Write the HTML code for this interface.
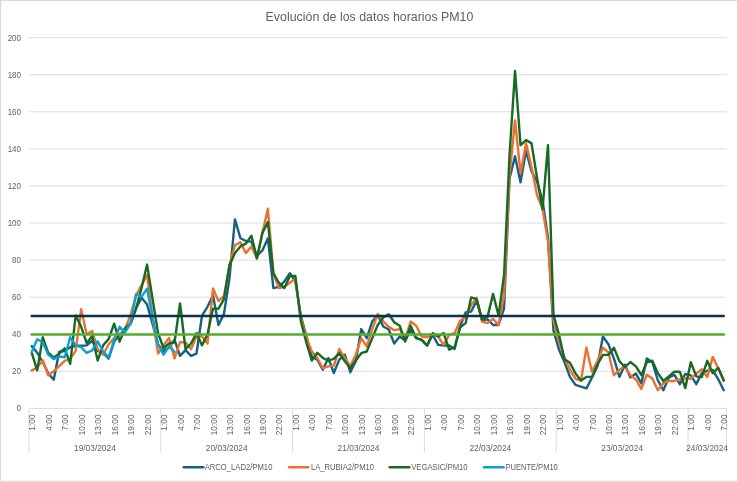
<!DOCTYPE html>
<html><head><meta charset="utf-8"><title>PM10</title>
<style>
html,body{margin:0;padding:0;background:#fff;}
body{width:738px;height:482px;overflow:hidden;font-family:"Liberation Sans",sans-serif;}
svg{display:block;}
text{font-family:"Liberation Sans",sans-serif;fill:#606060;}
</style></head><body>
<svg width="738" height="482" viewBox="0 0 738 482">
<defs><filter id="soft" x="0" y="0" width="100%" height="100%" filterUnits="userSpaceOnUse"><feGaussianBlur stdDeviation="0.4"/></filter></defs>
<rect x="0" y="0" width="738" height="482" fill="#ffffff"/>
<g filter="url(#soft)">
<rect x="0.6" y="0.4" width="736.9" height="480.9" fill="none" stroke="#D9D9D9" stroke-width="1.1"/>

<line x1="29" x2="726.5" y1="371.33" y2="371.33" stroke="#DCDCDC" stroke-width="1"/>
<line x1="29" x2="726.5" y1="334.26" y2="334.26" stroke="#DCDCDC" stroke-width="1"/>
<line x1="29" x2="726.5" y1="297.19" y2="297.19" stroke="#DCDCDC" stroke-width="1"/>
<line x1="29" x2="726.5" y1="260.12" y2="260.12" stroke="#DCDCDC" stroke-width="1"/>
<line x1="29" x2="726.5" y1="223.05" y2="223.05" stroke="#DCDCDC" stroke-width="1"/>
<line x1="29" x2="726.5" y1="185.98" y2="185.98" stroke="#DCDCDC" stroke-width="1"/>
<line x1="29" x2="726.5" y1="148.91" y2="148.91" stroke="#DCDCDC" stroke-width="1"/>
<line x1="29" x2="726.5" y1="111.84" y2="111.84" stroke="#DCDCDC" stroke-width="1"/>
<line x1="29" x2="726.5" y1="74.77" y2="74.77" stroke="#DCDCDC" stroke-width="1"/>
<line x1="29" x2="726.5" y1="37.70" y2="37.70" stroke="#DCDCDC" stroke-width="1"/>
<line x1="29" x2="726.5" y1="408.4" y2="408.4" stroke="#DCDCDC" stroke-width="1"/>
<line x1="29.00" x2="29.00" y1="408.4" y2="453" stroke="#DCDCDC" stroke-width="1"/>
<line x1="160.81" x2="160.81" y1="408.4" y2="453" stroke="#DCDCDC" stroke-width="1"/>
<line x1="292.62" x2="292.62" y1="408.4" y2="453" stroke="#DCDCDC" stroke-width="1"/>
<line x1="424.42" x2="424.42" y1="408.4" y2="453" stroke="#DCDCDC" stroke-width="1"/>
<line x1="556.23" x2="556.23" y1="408.4" y2="453" stroke="#DCDCDC" stroke-width="1"/>
<line x1="688.04" x2="688.04" y1="408.4" y2="453" stroke="#DCDCDC" stroke-width="1"/>
<line x1="726.5" x2="726.5" y1="408.4" y2="453" stroke="#DCDCDC" stroke-width="1"/>
<text transform="translate(21,411.40) scale(1,1.1)" font-size="8" text-anchor="end">0</text>
<text transform="translate(21,374.33) scale(1,1.1)" font-size="8" text-anchor="end">20</text>
<text transform="translate(21,337.26) scale(1,1.1)" font-size="8" text-anchor="end">40</text>
<text transform="translate(21,300.19) scale(1,1.1)" font-size="8" text-anchor="end">60</text>
<text transform="translate(21,263.12) scale(1,1.1)" font-size="8" text-anchor="end">80</text>
<text transform="translate(21,226.05) scale(1,1.1)" font-size="8" text-anchor="end">100</text>
<text transform="translate(21,188.98) scale(1,1.1)" font-size="8" text-anchor="end">120</text>
<text transform="translate(21,151.91) scale(1,1.1)" font-size="8" text-anchor="end">140</text>
<text transform="translate(21,114.84) scale(1,1.1)" font-size="8" text-anchor="end">160</text>
<text transform="translate(21,77.77) scale(1,1.1)" font-size="8" text-anchor="end">180</text>
<text transform="translate(21,40.70) scale(1,1.1)" font-size="8" text-anchor="end">200</text>
<text transform="translate(35.35,414.5) rotate(-90) scale(1.04,1.1)" font-size="8" text-anchor="end">1:00</text>
<text transform="translate(51.82,414.5) rotate(-90) scale(1.04,1.1)" font-size="8" text-anchor="end">4:00</text>
<text transform="translate(68.30,414.5) rotate(-90) scale(1.04,1.1)" font-size="8" text-anchor="end">7:00</text>
<text transform="translate(84.77,414.5) rotate(-90) scale(1.04,1.1)" font-size="8" text-anchor="end">10:00</text>
<text transform="translate(101.25,414.5) rotate(-90) scale(1.04,1.1)" font-size="8" text-anchor="end">13:00</text>
<text transform="translate(117.73,414.5) rotate(-90) scale(1.04,1.1)" font-size="8" text-anchor="end">16:00</text>
<text transform="translate(134.20,414.5) rotate(-90) scale(1.04,1.1)" font-size="8" text-anchor="end">19:00</text>
<text transform="translate(150.68,414.5) rotate(-90) scale(1.04,1.1)" font-size="8" text-anchor="end">22:00</text>
<text transform="translate(167.15,414.5) rotate(-90) scale(1.04,1.1)" font-size="8" text-anchor="end">1:00</text>
<text transform="translate(183.63,414.5) rotate(-90) scale(1.04,1.1)" font-size="8" text-anchor="end">4:00</text>
<text transform="translate(200.11,414.5) rotate(-90) scale(1.04,1.1)" font-size="8" text-anchor="end">7:00</text>
<text transform="translate(216.58,414.5) rotate(-90) scale(1.04,1.1)" font-size="8" text-anchor="end">10:00</text>
<text transform="translate(233.06,414.5) rotate(-90) scale(1.04,1.1)" font-size="8" text-anchor="end">13:00</text>
<text transform="translate(249.53,414.5) rotate(-90) scale(1.04,1.1)" font-size="8" text-anchor="end">16:00</text>
<text transform="translate(266.01,414.5) rotate(-90) scale(1.04,1.1)" font-size="8" text-anchor="end">19:00</text>
<text transform="translate(282.49,414.5) rotate(-90) scale(1.04,1.1)" font-size="8" text-anchor="end">22:00</text>
<text transform="translate(298.96,414.5) rotate(-90) scale(1.04,1.1)" font-size="8" text-anchor="end">1:00</text>
<text transform="translate(315.44,414.5) rotate(-90) scale(1.04,1.1)" font-size="8" text-anchor="end">4:00</text>
<text transform="translate(331.91,414.5) rotate(-90) scale(1.04,1.1)" font-size="8" text-anchor="end">7:00</text>
<text transform="translate(348.39,414.5) rotate(-90) scale(1.04,1.1)" font-size="8" text-anchor="end">10:00</text>
<text transform="translate(364.87,414.5) rotate(-90) scale(1.04,1.1)" font-size="8" text-anchor="end">13:00</text>
<text transform="translate(381.34,414.5) rotate(-90) scale(1.04,1.1)" font-size="8" text-anchor="end">16:00</text>
<text transform="translate(397.82,414.5) rotate(-90) scale(1.04,1.1)" font-size="8" text-anchor="end">19:00</text>
<text transform="translate(414.29,414.5) rotate(-90) scale(1.04,1.1)" font-size="8" text-anchor="end">22:00</text>
<text transform="translate(430.77,414.5) rotate(-90) scale(1.04,1.1)" font-size="8" text-anchor="end">1:00</text>
<text transform="translate(447.25,414.5) rotate(-90) scale(1.04,1.1)" font-size="8" text-anchor="end">4:00</text>
<text transform="translate(463.72,414.5) rotate(-90) scale(1.04,1.1)" font-size="8" text-anchor="end">7:00</text>
<text transform="translate(480.20,414.5) rotate(-90) scale(1.04,1.1)" font-size="8" text-anchor="end">10:00</text>
<text transform="translate(496.67,414.5) rotate(-90) scale(1.04,1.1)" font-size="8" text-anchor="end">13:00</text>
<text transform="translate(513.15,414.5) rotate(-90) scale(1.04,1.1)" font-size="8" text-anchor="end">16:00</text>
<text transform="translate(529.63,414.5) rotate(-90) scale(1.04,1.1)" font-size="8" text-anchor="end">19:00</text>
<text transform="translate(546.10,414.5) rotate(-90) scale(1.04,1.1)" font-size="8" text-anchor="end">22:00</text>
<text transform="translate(562.58,414.5) rotate(-90) scale(1.04,1.1)" font-size="8" text-anchor="end">1:00</text>
<text transform="translate(579.05,414.5) rotate(-90) scale(1.04,1.1)" font-size="8" text-anchor="end">4:00</text>
<text transform="translate(595.53,414.5) rotate(-90) scale(1.04,1.1)" font-size="8" text-anchor="end">7:00</text>
<text transform="translate(612.01,414.5) rotate(-90) scale(1.04,1.1)" font-size="8" text-anchor="end">10:00</text>
<text transform="translate(628.48,414.5) rotate(-90) scale(1.04,1.1)" font-size="8" text-anchor="end">13:00</text>
<text transform="translate(644.96,414.5) rotate(-90) scale(1.04,1.1)" font-size="8" text-anchor="end">16:00</text>
<text transform="translate(661.43,414.5) rotate(-90) scale(1.04,1.1)" font-size="8" text-anchor="end">19:00</text>
<text transform="translate(677.91,414.5) rotate(-90) scale(1.04,1.1)" font-size="8" text-anchor="end">22:00</text>
<text transform="translate(694.39,414.5) rotate(-90) scale(1.04,1.1)" font-size="8" text-anchor="end">1:00</text>
<text transform="translate(710.86,414.5) rotate(-90) scale(1.04,1.1)" font-size="8" text-anchor="end">4:00</text>
<text transform="translate(727.34,414.5) rotate(-90) scale(1.04,1.1)" font-size="8" text-anchor="end">7:00</text>
<text transform="translate(94.90,450.9) scale(1,1.14)" font-size="8" text-anchor="middle" textLength="41.8" lengthAdjust="spacingAndGlyphs">19/03/2024</text>
<text transform="translate(226.71,450.9) scale(1,1.14)" font-size="8" text-anchor="middle" textLength="41.8" lengthAdjust="spacingAndGlyphs">20/03/2024</text>
<text transform="translate(358.52,450.9) scale(1,1.14)" font-size="8" text-anchor="middle" textLength="41.8" lengthAdjust="spacingAndGlyphs">21/03/2024</text>
<text transform="translate(490.33,450.9) scale(1,1.14)" font-size="8" text-anchor="middle" textLength="41.8" lengthAdjust="spacingAndGlyphs">22/03/2024</text>
<text transform="translate(622.14,450.9) scale(1,1.14)" font-size="8" text-anchor="middle" textLength="41.8" lengthAdjust="spacingAndGlyphs">23/03/2024</text>
<text transform="translate(707.1,450.9) scale(1,1.14)" font-size="8" text-anchor="middle" textLength="41.8" lengthAdjust="spacingAndGlyphs">24/03/2024</text>
<text x="369.5" y="21.0" font-size="12.6" text-anchor="middle" textLength="207.8" lengthAdjust="spacingAndGlyphs">Evolución de los datos horarios PM10</text>
<polyline points="31.75,346.12 37.24,352.79 42.73,362.06 48.22,373.18 53.71,379.67 59.21,351.68 64.70,350.94 70.19,347.23 75.68,345.75 81.17,345.75 86.67,345.38 92.16,340.75 97.65,350.94 103.14,352.79 108.63,358.73 114.13,341.67 119.62,334.26 125.11,330.55 130.60,323.14 136.09,308.31 141.59,297.75 147.08,304.60 152.57,323.88 158.06,344.45 163.55,351.31 169.05,347.23 174.54,339.82 180.03,355.95 185.52,350.20 191.01,355.95 196.51,353.54 202.00,315.72 207.49,306.83 212.98,295.34 218.47,324.99 223.97,313.87 229.46,278.65 234.95,219.34 240.44,238.25 245.93,241.03 251.43,241.58 256.92,255.86 262.41,250.48 267.90,238.25 273.39,288.11 278.89,286.81 284.38,281.44 289.87,273.28 295.36,281.44 300.85,315.72 306.35,336.11 311.84,356.50 317.33,359.65 322.82,369.66 328.31,357.98 333.81,373.00 339.30,359.65 344.79,354.65 350.28,372.26 355.77,361.32 361.27,329.07 366.76,338.15 372.25,321.47 377.74,314.98 383.23,326.48 388.73,329.44 394.22,343.53 399.71,336.48 405.20,340.56 410.69,329.81 416.19,337.97 421.68,339.82 427.17,345.38 432.66,334.82 438.15,344.82 443.65,345.57 449.14,345.57 454.63,348.90 460.12,326.48 465.61,312.39 471.11,311.46 476.60,300.90 482.09,320.36 487.58,319.43 493.07,324.99 498.57,324.99 504.06,308.31 509.55,178.57 515.04,156.32 520.53,182.27 526.03,150.76 531.52,171.15 537.01,181.53 542.50,200.25 547.99,237.88 553.49,330.55 558.98,349.64 564.47,362.06 569.96,376.89 575.45,384.86 580.95,386.71 586.44,388.38 591.93,377.82 597.42,366.33 602.91,336.48 608.41,344.27 613.90,358.36 619.39,376.89 624.88,364.66 630.37,377.45 635.87,373.55 641.36,383.38 646.85,358.36 652.34,362.25 657.83,380.23 663.33,390.24 668.82,377.82 674.31,374.67 679.80,384.12 685.29,373.92 690.79,375.41 696.28,384.12 701.77,373.18 707.26,370.77 712.75,370.03 718.25,379.30 723.74,390.24" fill="none" stroke="#156082" stroke-width="2.4" stroke-linejoin="round" stroke-linecap="round"/>
<polyline points="31.75,370.40 37.24,367.62 42.73,360.21 48.22,375.41 53.71,371.33 59.21,366.14 64.70,360.95 70.19,358.91 75.68,350.94 81.17,309.24 86.67,334.26 92.16,330.92 97.65,349.09 103.14,354.65 108.63,344.45 114.13,337.97 119.62,334.26 125.11,328.70 130.60,314.80 136.09,295.34 141.59,285.14 147.08,274.95 152.57,317.58 158.06,353.54 163.55,345.38 169.05,337.97 174.54,358.36 180.03,342.23 185.52,342.23 191.01,349.09 196.51,336.48 202.00,336.48 207.49,343.53 212.98,288.48 218.47,300.90 223.97,296.26 229.46,265.31 234.95,245.29 240.44,242.33 245.93,253.08 251.43,246.40 256.92,258.45 262.41,232.87 267.90,208.78 273.39,273.28 278.89,288.11 284.38,286.81 289.87,282.73 295.36,278.65 300.85,317.58 306.35,337.97 311.84,351.50 317.33,357.98 322.82,367.99 328.31,366.33 333.81,365.58 339.30,349.09 344.79,357.98 350.28,366.33 355.77,354.65 361.27,338.15 366.76,346.49 372.25,329.07 377.74,314.06 383.23,321.47 388.73,326.85 394.22,330.18 399.71,329.07 405.20,338.89 410.69,321.47 416.19,325.73 421.68,336.48 427.17,337.23 432.66,333.89 438.15,336.48 443.65,344.82 449.14,334.82 454.63,333.15 460.12,320.73 465.61,317.39 471.11,304.97 476.60,297.75 482.09,321.66 487.58,323.14 493.07,318.88 498.57,324.99 504.06,295.34 509.55,174.86 515.04,120.37 520.53,173.19 526.03,143.35 531.52,167.07 537.01,195.06 542.50,208.59 547.99,241.58 553.49,320.54 558.98,341.67 564.47,357.61 569.96,369.85 575.45,378.74 580.95,380.60 586.44,347.79 591.93,371.70 597.42,361.14 602.91,347.79 608.41,352.24 613.90,375.22 619.39,369.85 624.88,366.33 630.37,375.04 635.87,379.49 641.36,388.94 646.85,374.67 652.34,378.56 657.83,390.24 663.33,383.19 668.82,380.97 674.31,380.97 679.80,379.30 685.29,378.56 690.79,378.56 696.28,373.92 701.77,369.29 707.26,377.08 712.75,356.87 718.25,368.55 723.74,380.97" fill="none" stroke="#E97132" stroke-width="2.4" stroke-linejoin="round" stroke-linecap="round"/>
<polyline points="31.75,352.79 37.24,370.40 42.73,337.23 48.22,352.79 53.71,357.43 59.21,353.72 64.70,348.35 70.19,363.92 75.68,315.35 81.17,326.85 86.67,343.16 92.16,336.11 97.65,360.58 103.14,345.38 108.63,339.08 114.13,323.70 119.62,341.67 125.11,328.14 130.60,323.88 136.09,308.31 141.59,287.92 147.08,264.57 152.57,299.04 158.06,333.15 163.55,347.98 169.05,343.53 174.54,342.23 180.03,303.49 185.52,349.09 191.01,343.53 196.51,333.15 202.00,345.38 207.49,334.26 212.98,308.68 218.47,308.68 223.97,299.04 229.46,265.31 234.95,253.08 240.44,246.40 245.93,243.62 251.43,235.65 256.92,258.45 262.41,232.87 267.90,222.12 273.39,273.28 278.89,282.73 284.38,288.11 289.87,276.06 295.36,276.06 300.85,321.29 306.35,342.60 311.84,360.58 317.33,352.79 322.82,357.98 328.31,360.58 333.81,358.91 339.30,353.17 344.79,361.32 350.28,367.99 355.77,360.58 361.27,353.17 366.76,351.50 372.25,338.15 377.74,324.99 383.23,317.58 388.73,314.24 394.22,322.21 399.71,325.73 405.20,341.49 410.69,325.73 416.19,338.15 421.68,339.82 427.17,345.57 432.66,333.15 438.15,336.48 443.65,333.15 449.14,349.64 454.63,347.23 460.12,327.40 465.61,323.14 471.11,297.38 476.60,299.04 482.09,319.43 487.58,316.65 493.07,293.85 498.57,315.72 504.06,274.95 509.55,154.47 515.04,71.06 520.53,145.20 526.03,140.01 531.52,143.35 537.01,177.45 542.50,209.52 547.99,145.20 553.49,314.80 558.98,334.63 564.47,359.28 569.96,362.80 575.45,373.37 580.95,380.60 586.44,376.89 591.93,376.89 597.42,364.66 602.91,354.83 608.41,354.83 613.90,347.79 619.39,361.14 624.88,367.25 630.37,362.06 635.87,366.33 641.36,375.04 646.85,362.25 652.34,360.77 657.83,373.18 663.33,380.97 668.82,376.33 674.31,371.70 679.80,371.70 685.29,388.01 690.79,362.25 696.28,376.33 701.77,377.08 707.26,360.77 712.75,373.18 718.25,367.81 723.74,380.23" fill="none" stroke="#196B24" stroke-width="2.4" stroke-linejoin="round" stroke-linecap="round"/>
<polyline points="31.75,351.87 37.24,339.26 42.73,342.23 48.22,354.65 53.71,359.10 59.21,356.50 64.70,357.24 70.19,337.23 75.68,345.38 81.17,347.23 86.67,352.79 92.16,350.39 97.65,341.30 103.14,351.50 108.63,357.61 114.13,340.19 119.62,326.85 125.11,332.41 130.60,323.14 136.09,294.22 141.59,296.63 147.08,288.66 152.57,317.58 158.06,344.45 163.55,354.65 169.05,346.68 174.54,351.87" fill="none" stroke="#0F9ED5" stroke-width="2.4" stroke-linejoin="round" stroke-linecap="round"/>
<polyline points="31.75,316.02 37.24,316.02 42.73,316.02 48.22,316.02 53.71,316.02 59.21,316.02 64.70,316.02 70.19,316.02 75.68,316.02 81.17,316.02 86.67,316.02 92.16,316.02 97.65,316.02 103.14,316.02 108.63,316.02 114.13,316.02 119.62,316.02 125.11,316.02 130.60,316.02 136.09,316.02 141.59,316.02 147.08,316.02 152.57,316.02 158.06,316.02 163.55,316.02 169.05,316.02 174.54,316.02 180.03,316.02 185.52,316.02 191.01,316.02 196.51,316.02 202.00,316.02 207.49,316.02 212.98,316.02 218.47,316.02 223.97,316.02 229.46,316.02 234.95,316.02 240.44,316.02 245.93,316.02 251.43,316.02 256.92,316.02 262.41,316.02 267.90,316.02 273.39,316.02 278.89,316.02 284.38,316.02 289.87,316.02 295.36,316.02 300.85,316.02 306.35,316.02 311.84,316.02 317.33,316.02 322.82,316.02 328.31,316.02 333.81,316.02 339.30,316.02 344.79,316.02 350.28,316.02 355.77,316.02 361.27,316.02 366.76,316.02 372.25,316.02 377.74,316.02 383.23,316.02 388.73,316.02 394.22,316.02 399.71,316.02 405.20,316.02 410.69,316.02 416.19,316.02 421.68,316.02 427.17,316.02 432.66,316.02 438.15,316.02 443.65,316.02 449.14,316.02 454.63,316.02 460.12,316.02 465.61,316.02 471.11,316.02 476.60,316.02 482.09,316.02 487.58,316.02 493.07,316.02 498.57,316.02 504.06,316.02 509.55,316.02 515.04,316.02 520.53,316.02 526.03,316.02 531.52,316.02 537.01,316.02 542.50,316.02 547.99,316.02 553.49,316.02 558.98,316.02 564.47,316.02 569.96,316.02 575.45,316.02 580.95,316.02 586.44,316.02 591.93,316.02 597.42,316.02 602.91,316.02 608.41,316.02 613.90,316.02 619.39,316.02 624.88,316.02 630.37,316.02 635.87,316.02 641.36,316.02 646.85,316.02 652.34,316.02 657.83,316.02 663.33,316.02 668.82,316.02 674.31,316.02 679.80,316.02 685.29,316.02 690.79,316.02 696.28,316.02 701.77,316.02 707.26,316.02 712.75,316.02 718.25,316.02 723.74,316.02" fill="none" stroke="#10304E" stroke-width="2.6" stroke-linejoin="round" stroke-linecap="round"/>
<polyline points="31.75,334.56 37.24,334.56 42.73,334.56 48.22,334.56 53.71,334.56 59.21,334.56 64.70,334.56 70.19,334.56 75.68,334.56 81.17,334.56 86.67,334.56 92.16,334.56 97.65,334.56 103.14,334.56 108.63,334.56 114.13,334.56 119.62,334.56 125.11,334.56 130.60,334.56 136.09,334.56 141.59,334.56 147.08,334.56 152.57,334.56 158.06,334.56 163.55,334.56 169.05,334.56 174.54,334.56 180.03,334.56 185.52,334.56 191.01,334.56 196.51,334.56 202.00,334.56 207.49,334.56 212.98,334.56 218.47,334.56 223.97,334.56 229.46,334.56 234.95,334.56 240.44,334.56 245.93,334.56 251.43,334.56 256.92,334.56 262.41,334.56 267.90,334.56 273.39,334.56 278.89,334.56 284.38,334.56 289.87,334.56 295.36,334.56 300.85,334.56 306.35,334.56 311.84,334.56 317.33,334.56 322.82,334.56 328.31,334.56 333.81,334.56 339.30,334.56 344.79,334.56 350.28,334.56 355.77,334.56 361.27,334.56 366.76,334.56 372.25,334.56 377.74,334.56 383.23,334.56 388.73,334.56 394.22,334.56 399.71,334.56 405.20,334.56 410.69,334.56 416.19,334.56 421.68,334.56 427.17,334.56 432.66,334.56 438.15,334.56 443.65,334.56 449.14,334.56 454.63,334.56 460.12,334.56 465.61,334.56 471.11,334.56 476.60,334.56 482.09,334.56 487.58,334.56 493.07,334.56 498.57,334.56 504.06,334.56 509.55,334.56 515.04,334.56 520.53,334.56 526.03,334.56 531.52,334.56 537.01,334.56 542.50,334.56 547.99,334.56 553.49,334.56 558.98,334.56 564.47,334.56 569.96,334.56 575.45,334.56 580.95,334.56 586.44,334.56 591.93,334.56 597.42,334.56 602.91,334.56 608.41,334.56 613.90,334.56 619.39,334.56 624.88,334.56 630.37,334.56 635.87,334.56 641.36,334.56 646.85,334.56 652.34,334.56 657.83,334.56 663.33,334.56 668.82,334.56 674.31,334.56 679.80,334.56 685.29,334.56 690.79,334.56 696.28,334.56 701.77,334.56 707.26,334.56 712.75,334.56 718.25,334.56 723.74,334.56" fill="none" stroke="#55AD33" stroke-width="2.6" stroke-linejoin="round" stroke-linecap="round"/>
<line x1="183.7" x2="203.4" y1="467.3" y2="467.3" stroke="#156082" stroke-width="2.4" stroke-linecap="round"/>
<text transform="translate(204.7,470.3) scale(1,1.1)" font-size="8" textLength="67.7" lengthAdjust="spacingAndGlyphs">ARCO_LAD2/PM10</text>
<line x1="289.09999999999997" x2="308.3" y1="467.3" y2="467.3" stroke="#E97132" stroke-width="2.4" stroke-linecap="round"/>
<text transform="translate(310.9,470.3) scale(1,1.1)" font-size="8" textLength="63.1" lengthAdjust="spacingAndGlyphs">LA_RUBIA2/PM10</text>
<line x1="389.7" x2="409.3" y1="467.3" y2="467.3" stroke="#196B24" stroke-width="2.4" stroke-linecap="round"/>
<text transform="translate(411.2,470.3) scale(1,1.1)" font-size="8" textLength="56.4" lengthAdjust="spacingAndGlyphs">VEGASIC/PM10</text>
<line x1="484.0" x2="503.6" y1="467.3" y2="467.3" stroke="#0F9ED5" stroke-width="2.4" stroke-linecap="round"/>
<text transform="translate(505.5,470.3) scale(1,1.1)" font-size="8" textLength="52.3" lengthAdjust="spacingAndGlyphs">PUENTE/PM10</text>
</g></svg></body></html>
